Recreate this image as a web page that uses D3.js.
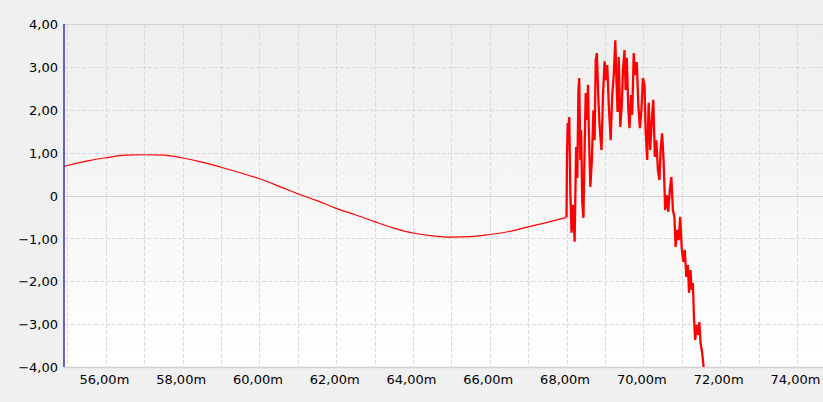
<!DOCTYPE html>
<html>
<head>
<meta charset="utf-8">
<script src="https://cdn.jsdelivr.net/npm/d3@7"></script>
<style>
    html, body { margin: 0; padding: 0; background: #f0f0f0; }
    svg { display: block; }
    .tick-label { font-family: "DejaVu Sans", sans-serif; font-size: 13px; fill: #000; }
</style>
</head>
<body>
<div id="chart"></div>
<script>
// smooth part of the signal (position in m, amplitude)
var waveX = [54.91, 55, 55.5, 56, 56.5, 57, 57.5, 58, 58.5, 59, 59.5, 60, 60.5, 61, 61.5, 62, 62.5,
    63, 63.5, 64, 64.5, 65, 65.5, 66, 66.5, 67, 67.5, 68];
var waveY = [0.68, 0.70, 0.80, 0.88, 0.94, 0.95, 0.94, 0.875, 0.78, 0.66, 0.53, 0.39, 0.22, 0.04, -0.12, -0.30, -0.45,
    -0.61, -0.76, -0.875, -0.94, -0.97, -0.96, -0.91, -0.84, -0.73, -0.625, -0.51];

// noisy burst after 68 m
var burstX = [68.00, 68.01, 68.03, 68.05, 68.07, 68.10, 68.13, 68.17, 68.21, 68.25, 68.28, 68.31, 68.33, 68.36, 68.38,
    68.41, 68.44, 68.47, 68.50, 68.53, 68.56, 68.58, 68.62, 68.66, 68.70, 68.73, 68.76, 68.79, 68.83, 68.86,
    68.91, 68.95, 68.99, 69.03, 69.06, 69.10, 69.15, 69.19, 69.23, 69.27, 69.30, 69.33, 69.36, 69.40, 69.44,
    69.47, 69.51, 69.54, 69.57, 69.61, 69.64, 69.68, 69.71, 69.75, 69.79, 69.83, 69.87, 69.91, 69.95, 69.99,
    70.03, 70.06, 70.10, 70.14, 70.18, 70.22, 70.26, 70.30, 70.34, 70.38, 70.42, 70.45, 70.49, 70.53, 70.57,
    70.61, 70.65, 70.69, 70.73, 70.77, 70.81, 70.84, 70.88, 70.92, 70.96, 71.00, 71.04, 71.08, 71.12, 71.16,
    71.19, 71.23, 71.26, 71.29, 71.32, 71.35, 71.39, 71.43, 71.46, 71.49, 71.53, 71.57, 71.59];
var burstY = [-0.50, 0.83, 1.69, 1.29, 1.83, 0.06, -0.87, -0.22, -1.08, 1.13, 0.41, 2.46, 2.74, 0.83, 1.53,
    -0.17, -0.52, 1.06, 2.39, 1.76, 2.58, 1.53, 0.20, 0.83, 1.99, 1.29, 3.16, 3.32, 2.23, 1.64,
    1.06, 2.34, 3.13, 2.69, 3.04, 2.11, 1.29, 2.34, 2.81, 3.62, 2.69, 1.95, 3.23, 1.60, 2.11,
    2.93, 3.39, 2.46, 3.21, 1.99, 1.57, 2.34, 1.88, 3.32, 2.81, 3.11, 2.11, 1.57, 1.99, 2.74,
    2.58, 1.53, 0.83, 2.16, 1.06, 1.76, 2.23, 0.90, 1.29, 0.59, 0.36, 1.06, 1.45, 0.76, -0.34,
    0.01, -0.38, 0.13, 0.43, -0.34, -0.50, -1.20, -0.80, -1.04, -0.50, -1.22, -1.55, -1.27, -1.90, -1.62,
    -2.27, -1.74, -2.20, -2.04, -2.86, -3.37, -3.02, -3.25, -2.95, -3.44, -3.65, -4.00, -4.30];

var xTicks = [56, 58, 60, 62, 64, 66, 68, 70, 72, 74];
var xGrid = d3.range(55, 75);
var yTicks = [4, 3, 2, 1, 0, -1, -2, -3, -4];
var xDomain = [54.91, 74.68];
var yDomain = [-4, 4];

var width = 823, height = 402;
var plot = { left: 64, right: 823, top: 24, bottom: 367 };

var xScale = d3.scaleLinear().domain(xDomain).range([plot.left, plot.right]);
var yScale = d3.scaleLinear().domain(yDomain).range([plot.bottom, plot.top]);

var svg = d3.select("#chart").append("svg")
    .attr("width", width)
    .attr("height", height);

var defs = svg.append("defs");
var grad = defs.append("linearGradient")
    .attr("id", "plotbg")
    .attr("x1", 0).attr("y1", 0).attr("x2", 0).attr("y2", 1);
grad.append("stop").attr("offset", "0%").attr("stop-color", "#eeeeee");
grad.append("stop").attr("offset", "100%").attr("stop-color", "#ffffff");

defs.append("clipPath").attr("id", "plotclip")
    .append("rect")
    .attr("x", plot.left).attr("y", plot.top)
    .attr("width", plot.right - plot.left)
    .attr("height", plot.bottom - plot.top);

svg.append("rect")
    .attr("x", plot.left).attr("y", plot.top)
    .attr("width", plot.right - plot.left)
    .attr("height", plot.bottom - plot.top)
    .attr("fill", "url(#plotbg)");

// grid
svg.append("g").selectAll("line")
    .data(xGrid)
    .enter().append("line")
    .attr("x1", function(d) { return Math.round(xScale(d)) + 0.5; })
    .attr("x2", function(d) { return Math.round(xScale(d)) + 0.5; })
    .attr("y1", plot.top)
    .attr("y2", plot.bottom)
    .attr("stroke", "#d9d9d9")
    .attr("stroke-dasharray", "4,2");

svg.append("g").selectAll("line")
    .data(yTicks)
    .enter().append("line")
    .attr("x1", plot.left)
    .attr("x2", plot.right)
    .attr("y1", function(d) { return Math.round(yScale(d)) + 0.5; })
    .attr("y2", function(d) { return Math.round(yScale(d)) + 0.5; })
    .attr("stroke", function(d) { return (d == 0 || d == 4 || d == -4) ? "#d2d2d2" : "#d9d9d9"; })
    .attr("stroke-width", function(d) { return d == -4 ? 1.5 : 1; })
    .attr("stroke-dasharray", function(d) { return (d == 0 || d == 4 || d == -4) ? null : "4,2"; });

// signal
var waveLine = d3.line()
    .curve(d3.curveMonotoneX)
    .x(function(d) { return xScale(d[0]); })
    .y(function(d) { return yScale(d[1]); });

var burstLine = d3.line()
    .x(function(d) { return xScale(d[0]); })
    .y(function(d) { return yScale(d[1]); });

var lines = svg.append("g").attr("clip-path", "url(#plotclip)");

lines.append("path")
    .attr("d", waveLine(waveX.map(function(x, i) { return [x, waveY[i]]; })))
    .attr("fill", "none")
    .attr("stroke", "#ff0000")
    .attr("stroke-width", 1.2);

lines.append("path")
    .attr("d", burstLine(burstX.map(function(x, i) { return [x, burstY[i]]; })))
    .attr("fill", "none")
    .attr("stroke", "#ff0000")
    .attr("stroke-width", 2.3)
    .attr("stroke-linejoin", "bevel");

// axes
var yAxis = d3.axisLeft(yScale)
    .tickValues(yTicks)
    .tickSize(0)
    .tickPadding(6)
    .tickFormat(function(d) { return d == 0 ? "0" : d3.format(".2f")(d).replace(".", ","); });

var gy = svg.append("g")
    .attr("transform", "translate(" + plot.left + ",0)")
    .call(yAxis);
gy.select(".domain").remove();
gy.selectAll("text").attr("class", "tick-label").attr("dy", "0.36em");

var xAxis = d3.axisBottom(xScale)
    .tickValues(xTicks)
    .tickSize(0)
    .tickPadding(8)
    .tickFormat(function(d) { return d3.format(".2f")(d).replace(".", ",") + "m"; });

var gx = svg.append("g")
    .attr("transform", "translate(-2," + plot.bottom + ")")
    .call(xAxis);
gx.select(".domain").remove();
gx.selectAll("text").attr("class", "tick-label");

svg.append("line")
    .attr("x1", plot.left)
    .attr("x2", plot.left)
    .attr("y1", plot.top)
    .attr("y2", plot.bottom)
    .attr("stroke", "#3535a8")
    .attr("stroke-width", 1.5);
</script>
</body>
</html>
